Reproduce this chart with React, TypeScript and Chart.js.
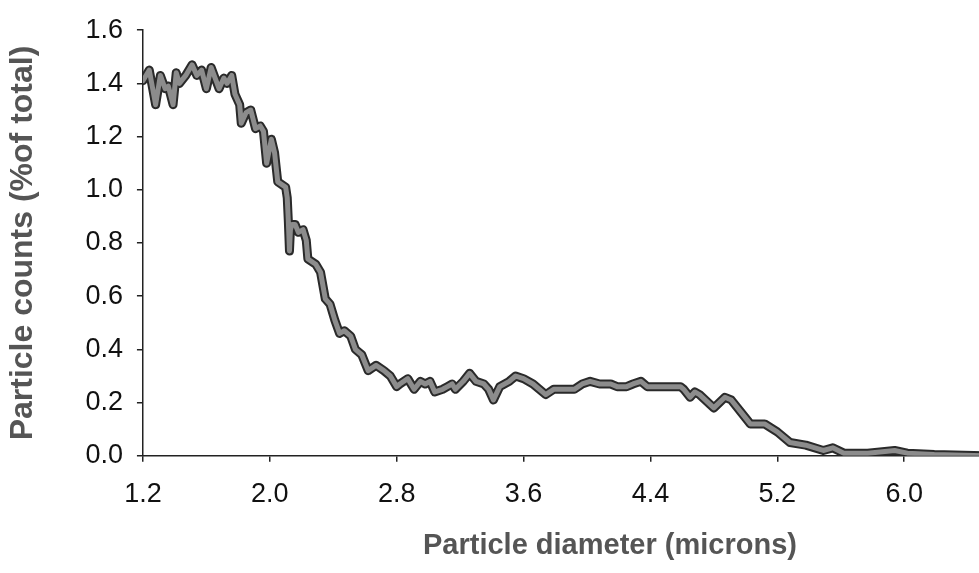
import React, { useEffect, useRef } from "react";
import { Chart, registerables } from "chart.js";

Chart.register(...registerables);

// Particle diameter (microns)
const DIAMETER = [
  1.20, 1.24, 1.28, 1.31, 1.34, 1.36, 1.39, 1.41, 1.43, 1.47,
  1.51, 1.54, 1.57, 1.60, 1.63, 1.68, 1.71, 1.73, 1.76, 1.78,
  1.81, 1.82, 1.85, 1.88, 1.91, 1.94, 1.96, 1.98, 2.01, 2.03,
  2.05, 2.10, 2.11, 2.117, 2.124, 2.13, 2.14, 2.16, 2.18, 2.21,
  2.23, 2.24, 2.29, 2.32, 2.35, 2.38, 2.41, 2.44, 2.47, 2.51,
  2.54, 2.58, 2.62, 2.67, 2.72, 2.76, 2.80, 2.82, 2.87, 2.91,
  2.95, 2.98, 3.01, 3.04, 3.09, 3.12, 3.15, 3.17, 3.22, 3.26,
  3.30, 3.35, 3.38, 3.41, 3.45, 3.51, 3.55, 3.60, 3.66, 3.74,
  3.79, 3.85, 3.92, 3.97, 4.02, 4.08, 4.15, 4.19, 4.25, 4.29,
  4.34, 4.38, 4.44, 4.50, 4.59, 4.61, 4.65, 4.68, 4.71, 4.80,
  4.87, 4.91, 5.03, 5.12, 5.20, 5.28, 5.38, 5.49, 5.55, 5.62,
  5.77, 5.94, 6.02, 6.19, 6.50,
];

// Particle counts (% of total)
const COUNTS = [
  1.41, 1.45, 1.32, 1.43, 1.38, 1.39, 1.32, 1.44, 1.40, 1.43,
  1.47, 1.43, 1.45, 1.38, 1.46, 1.38, 1.42, 1.40, 1.43, 1.36,
  1.32, 1.25, 1.29, 1.30, 1.23, 1.24, 1.22, 1.10, 1.19, 1.14,
  1.03, 1.01, 0.97, 0.88, 0.77, 0.85, 0.87, 0.87, 0.84, 0.85,
  0.81, 0.74, 0.72, 0.69, 0.59, 0.57, 0.51, 0.46, 0.47, 0.45,
  0.40, 0.38, 0.32, 0.34, 0.32, 0.30, 0.26, 0.27, 0.29, 0.25,
  0.28, 0.27, 0.28, 0.24, 0.25, 0.26, 0.27, 0.25, 0.28, 0.31,
  0.28, 0.27, 0.25, 0.21, 0.26, 0.28, 0.30, 0.29, 0.27, 0.23,
  0.25, 0.25, 0.25, 0.27, 0.28, 0.27, 0.27, 0.26, 0.26, 0.27,
  0.28, 0.26, 0.26, 0.26, 0.26, 0.25, 0.22, 0.24, 0.23, 0.18,
  0.22, 0.21, 0.12, 0.12, 0.09, 0.05, 0.04, 0.02, 0.03, 0.01,
  0.01, 0.02, 0.01, 0.005, 0.0,
];

const X_TICKS = [1.2, 2.0, 2.8, 3.6, 4.4, 5.2, 6.0, 6.8];
const Y_TICKS = [0.0, 0.2, 0.4, 0.6, 0.8, 1.0, 1.2, 1.4, 1.6];
const X_MIN = 1.2;
const X_MAX = 7.09;
const Y_MIN = 0;
const Y_MAX = 1.6;

const X_TITLE = "Particle diameter (microns)";
const Y_TITLE = "Particle counts (%of total)";

const FONT = "'Liberation Sans', Arial, Helvetica, sans-serif";

export default function App() {
  const ref = useRef<HTMLCanvasElement | null>(null);

  useEffect(() => {
    if (!ref.current) return;
    const points = DIAMETER.map((x, i) => ({ x, y: COUNTS[i] }));
    const chart = new Chart(ref.current, {
      type: "line",
      data: {
        datasets: [
          {
            data: points,
            borderColor: "#8c8c8c",
            borderWidth: 5,
            pointRadius: 0,
            tension: 0,
            borderJoinStyle: "round",
            borderCapStyle: "round",
            fill: false,
          },
          {
            data: points,
            borderColor: "#2a2a2a",
            borderWidth: 9,
            pointRadius: 0,
            tension: 0,
            borderJoinStyle: "round",
            borderCapStyle: "round",
            fill: false,
          },
        ],
      },
      options: {
        animation: false,
        responsive: false,
        parsing: false,
        layout: { padding: { top: 20, right: 13, bottom: 4, left: 0 } },
        plugins: {
          legend: { display: false },
          tooltip: { enabled: false },
        },
        scales: {
          x: {
            type: "linear",
            min: X_MIN,
            max: X_MAX,
            afterBuildTicks: (s: any) => {
              s.ticks = X_TICKS.map((v) => ({ value: v }));
            },
            ticks: {
              color: "#111",
              font: { family: FONT, size: 27 },
              padding: 17,
              maxRotation: 0,
              autoSkip: false,
              callback: (v: any) => Number(v).toFixed(1),
            },
            grid: {
              display: true,
              drawOnChartArea: false,
              drawTicks: true,
              tickLength: 6,
              color: "#222",
              lineWidth: 1.5,
            },
            border: { display: true, color: "#222", width: 1.5 },
            title: {
              display: true,
              text: X_TITLE,
              color: "#555",
              font: { family: FONT, size: 29, weight: "bold" },
              padding: { top: 0, bottom: 6 },
            },
          },
          y: {
            type: "linear",
            min: Y_MIN,
            max: Y_MAX,
            afterBuildTicks: (s: any) => {
              s.ticks = Y_TICKS.map((v) => ({ value: v }));
            },
            ticks: {
              color: "#111",
              font: { family: FONT, size: 27 },
              padding: 14,
              autoSkip: false,
              callback: (v: any) => Number(v).toFixed(1),
            },
            grid: {
              display: true,
              drawOnChartArea: false,
              drawTicks: true,
              tickLength: 6,
              color: "#222",
              lineWidth: 1.5,
            },
            border: { display: true, color: "#222", width: 1.5 },
            title: {
              display: true,
              text: Y_TITLE,
              color: "#555",
              font: { family: FONT, size: 32, weight: "bold" },
              padding: { top: 4, bottom: 29 },
            },
          },
        },
      },
    });
    return () => chart.destroy();
  }, []);

  return (
    <div
      style={{
        position: "fixed",
        left: 0,
        top: 0,
        width: 979,
        height: 573,
        overflow: "hidden",
        background: "#fff",
      }}
    >
      <canvas ref={ref} width={1090} height={573} style={{ display: "block" }} />
    </div>
  );
}
